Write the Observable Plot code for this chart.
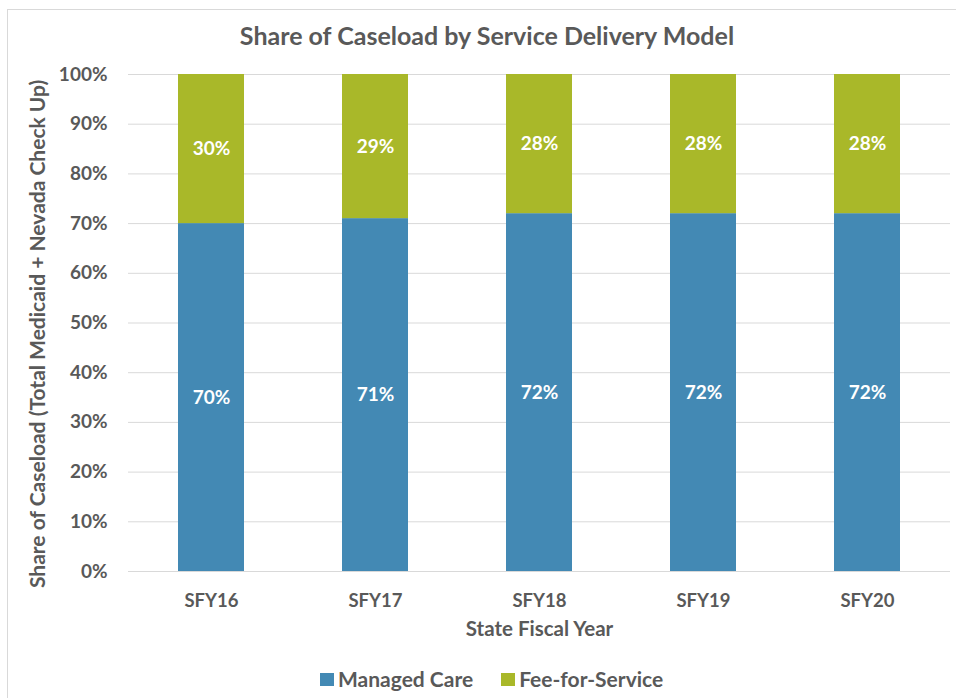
<!DOCTYPE html>
<html><head><meta charset="utf-8">
<script src="https://cdn.jsdelivr.net/npm/d3@7"></script>
<script src="https://cdn.jsdelivr.net/npm/@observablehq/plot@0.6"></script>
<style>
body{margin:0;background:#fff;font-family:Lato,sans-serif;overflow:hidden;}
#frame{position:absolute;left:7px;top:9px;width:980px;height:720px;border:1px solid #d9d9d9;box-sizing:border-box;}
#title{position:absolute;left:0;width:974px;top:20px;text-align:center;font-weight:bold;font-size:25px;color:#595959;line-height:30px;}
#chart{position:absolute;left:0;top:0;}
#legend{position:absolute;top:666px;left:320px;display:flex;align-items:center;font-weight:bold;font-size:21px;color:#595959;line-height:26px;}
#legend .sw{width:14px;height:13px;margin-right:4px;}
#legend .item{display:flex;align-items:center;margin-right:28px;}
</style></head>
<body>
<div id="frame"></div>
<div id="chart"></div>
<div id="title">Share of Caseload by Service Delivery Model</div>
<div id="legend"></div>
<script>
const years = ["SFY16", "SFY17", "SFY18", "SFY19", "SFY20"];
const managedCare = [70, 71, 72, 72, 72];
const feeForService = [30, 29, 28, 28, 28];
const series = ["Managed Care", "Fee-for-Service"];
const colors = ["#4389b4", "#a9b829"];
const yTicks = [0, 10, 20, 30, 40, 50, 60, 70, 80, 90, 100];
const yLabel = "Share of Caseload (Total Medicaid + Nevada Check Up)";
const xLabel = "State Fiscal Year";

const data = years.flatMap((yr, i) => [
  {year: yr, model: series[0], value: managedCare[i]},
  {year: yr, model: series[1], value: feeForService[i]}
]);

const chart = Plot.plot({
  width: 956, height: 698,
  marginTop: 74, marginBottom: 127, marginLeft: 128, marginRight: 6,
  style: {fontFamily: "Lato, sans-serif", fontWeight: "bold", fontSize: "19px", color: "#595959", background: "transparent"},
  x: {domain: years, paddingInner: 0.6, paddingOuter: 0.3, label: null},
  y: {domain: [0, 100], label: null},
  color: {domain: series, range: colors},
  marks: [
    Plot.gridY(yTicks, {stroke: "#d9d9d9", strokeOpacity: 1}),
    Plot.ruleY([0], {stroke: "#d9d9d9"}),
    Plot.barY(data, {x: "year", y: "value", fill: "model", z: "model"}),
    Plot.text(data, Plot.stackY({x: "year", y: "value", z: "model", text: d => d.value + "%", fill: "white", fontSize: 19, fontWeight: "bold"})),
    Plot.axisY(yTicks, {tickSize: 0, tickPadding: 21, tickFormat: d => d + "%", fontSize: 19}),
    Plot.text([yLabel], {frameAnchor: "left", y: [47.8], text: d => d, rotate: -90, dx: -90,
      fontSize: 21, fontWeight: "bold", fill: "#595959", textAnchor: "middle", lineAnchor: "middle"}),
    Plot.axisX({tickSize: 0, tickPadding: 22, fontSize: 18.5}),
    Plot.axisX({ticks: [], tickSize: 0, fontSize: 20.5,
      label: xLabel, labelAnchor: "center", labelOffset: 64, labelArrow: "none"})
  ]
});
document.getElementById("chart").append(chart);

const legend = document.getElementById("legend");
series.forEach((s, i) => {
  const item = document.createElement("div");
  item.className = "item";
  const sw = document.createElement("div");
  sw.className = "sw";
  sw.style.background = colors[i];
  const t = document.createElement("span");
  t.textContent = s;
  item.append(sw, t);
  legend.append(item);
});
</script>
</body></html>
